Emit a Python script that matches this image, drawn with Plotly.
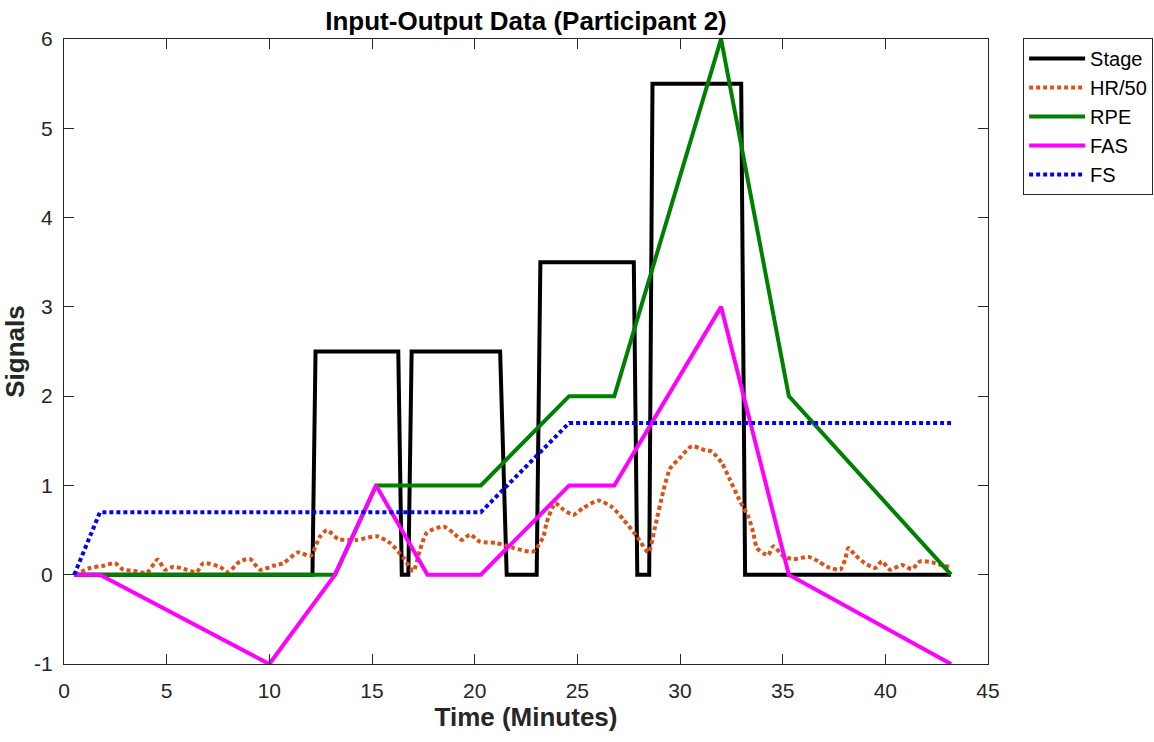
import plotly.graph_objects as go

# Stage
stage_t = [0.5, 12.1, 12.25, 16.28, 16.45, 16.77, 16.93, 21.24, 21.56, 23.02, 23.2, 27.75, 27.92, 28.5, 28.66, 32.98, 33.17, 43.2]
stage_v = [0, 0, 2.5, 2.5, 0, 0, 2.5, 2.5, 0, 0, 3.5, 3.5, 0, 0, 5.5, 5.5, 0, 0]

# HR/50
hr_t = [0.53, 1.27, 1.92, 2.48, 2.89, 3.38, 4.03, 4.56, 4.92, 5.33, 5.97, 6.46, 6.79, 7.6, 8.0,
        8.57, 9.06, 9.55, 10.2, 10.68, 11.4, 12.0, 12.45, 12.8, 13.36, 14.26, 15.23, 15.88, 16.53,
        17.01, 17.34, 17.67, 18.48, 18.96, 19.37, 19.78, 20.26, 21.07, 21.89, 22.86, 23.35, 23.5,
        23.92, 24.32, 24.8, 25.3, 26.03, 26.68, 27.24, 27.9, 28.46, 28.79, 29.2, 29.52, 30.0,
        30.57, 31.14, 31.55, 32.04, 32.44, 32.93, 33.33, 33.57, 33.74, 34.06, 34.3, 34.55, 35.04,
        35.52, 36.26, 36.74, 37.15, 37.8, 38.04, 38.2, 38.53, 39.0, 39.5, 39.83, 40.23, 40.8,
        41.29, 41.7, 42.26, 42.67, 43.1]
hr_v = [0.0, 0.075, 0.10, 0.13, 0.056, 0.045, 0.02, 0.17, 0.056, 0.09, 0.056, 0.03, 0.13, 0.086, 0.03,
        0.15, 0.175, 0.056, 0.10, 0.13, 0.25, 0.21, 0.42, 0.50, 0.40, 0.39, 0.43, 0.355, 0.19,
        0.04, 0.28, 0.47, 0.54, 0.47, 0.39, 0.45, 0.37, 0.355, 0.30, 0.26, 0.43, 0.58,
        0.80, 0.73, 0.67, 0.75, 0.83, 0.76, 0.62, 0.43, 0.25, 0.54, 0.95, 1.19, 1.31,
        1.44, 1.40, 1.38, 1.25, 1.06, 0.82, 0.65, 0.47, 0.30, 0.24, 0.22, 0.32, 0.205,
        0.175, 0.20, 0.15, 0.09, 0.056, 0.17, 0.30, 0.22, 0.13, 0.075, 0.15, 0.056, 0.11,
        0.063, 0.15, 0.14, 0.11, 0.09]

# Questionnaire time points
q_t = [0.5, 1.75, 10.0, 13.2, 15.2, 17.7, 20.3, 24.6, 26.8, 29.4, 32.0, 35.3, 43.2]
rpe_v = [0, 0, 0, 0, 1, 1, 1, 2, 2, 4, 6, 2, 0]
fas_v = [0, 0, -1, 0, 1, 0, 0, 1, 1, 2, 3, 0, -1]
fs_v = [0, 0.7, 0.7, 0.7, 0.7, 0.7, 0.7, 1.7, 1.7, 1.7, 1.7, 1.7, 1.7]

x_ticks = [0, 5, 10, 15, 20, 25, 30, 35, 40, 45]
y_ticks = [-1, 0, 1, 2, 3, 4, 5, 6]

FONT = "Liberation Sans, Arial, Helvetica, sans-serif"

fig = go.Figure()
fig.add_trace(go.Scatter(x=stage_t, y=stage_v, mode="lines", name="Stage",
                         line=dict(color="#000000", width=4)))
fig.add_trace(go.Scatter(x=hr_t, y=hr_v, mode="lines", name="HR/50",
                         line=dict(color="#D95319", width=4, dash="4px,3px", shape="spline", smoothing=0.6)))
fig.add_trace(go.Scatter(x=q_t, y=rpe_v, mode="lines", name="RPE",
                         line=dict(color="#008000", width=4)))
fig.add_trace(go.Scatter(x=q_t, y=fas_v, mode="lines", name="FAS",
                         line=dict(color="#FF00FF", width=4)))
fig.add_trace(go.Scatter(x=q_t, y=fs_v, mode="lines", name="FS",
                         line=dict(color="#0000FF", width=4, dash="4px,3px")))

axis_common = dict(showgrid=False, zeroline=False, showline=True, linecolor="#262626",
                   linewidth=1, mirror="ticks", ticks="inside", ticklen=10, tickcolor="#262626",
                   tickfont=dict(family=FONT, size=21, color="#262626"))

fig.update_layout(
    width=1154, height=742,
    margin=dict(l=64, r=166, t=39, b=78, autoexpand=False),
    paper_bgcolor="white", plot_bgcolor="white",
    title=dict(text="<b>Input-Output Data (Participant 2)</b>", x=0.4558, xanchor="center",
               y=0.972, yanchor="middle", font=dict(family=FONT, size=26, color="#000000")),
    xaxis=dict(range=[0, 45], tickvals=x_ticks, ticktext=[str(v) for v in x_ticks],
               ticklabelstandoff=8,
               title=dict(text="<b>Time (Minutes)</b>", font=dict(family=FONT, size=26, color="#262626"),
                          standoff=4),
               **axis_common),
    yaxis=dict(range=[-1, 6], tickvals=y_ticks, ticktext=[str(v) for v in y_ticks],
               ticklabelstandoff=6,
               title=dict(text="<b>Signals</b>", font=dict(family=FONT, size=26, color="#262626"),
                          standoff=4),
               **axis_common),
    legend=dict(x=1.038, y=1.0016, xanchor="left", yanchor="top", bgcolor="white",
                bordercolor="#262626", borderwidth=1, itemwidth=56,
                font=dict(family=FONT, size=20, color="#000000"), tracegroupgap=0),
    showlegend=True,
)

fig.write_html("out.html")
